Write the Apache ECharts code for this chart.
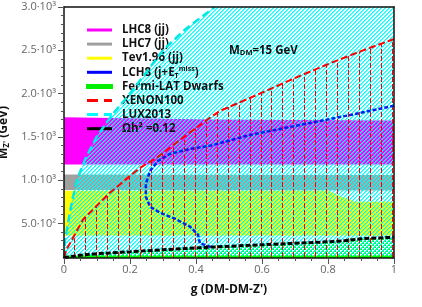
<!DOCTYPE html>
<html><head><meta charset="utf-8">
<script src="https://cdn.jsdelivr.net/npm/echarts@6/dist/echarts.min.js"></script>
<style>html,body{margin:0;padding:0;background:#fff}#c{width:422px;height:307px}</style>
</head><body><div id="c"></div>
<script>
// ---- data (g, M_Z' in GeV) ----
const xTickValues = [0, 0.2, 0.4, 0.6, 0.8, 1];
const yTickValues = [500, 1000, 1500, 2000, 2500, 3000];
const yTickLabels = ['5.0·10²', '1.0·10³', '1.5·10³', '2.0·10³', '2.5·10³', '3.0·10³'];
const seriesNames = ['LHC8 (jj)', 'LHC7 (jj)', 'Tev1.96 (jj)', 'LCH8 (j+ET miss)', 'Fermi-LAT Dwarfs', 'XENON100', 'LUX2013', 'Ωh² =0.12'];

const lhc8Upper = [[0, 1726], [0.45, 1700], [1, 1690]];
const lhc8Lower = [[0, 1180], [1, 1180]];
const lhc7Upper = [[0, 1065], [1, 1060]];
const lhc7Lower = [[0, 885], [1, 880]];
const tevUpper = [[0, 877], [0.80, 877], [0.84, 810], [0.88, 750], [1, 750]];
const tevLower = [[0, 360], [1, 360]];
const luxCurve = [[0, 100], [0.003, 300], [0.012, 500], [0.024, 750], [0.039, 1000], [0.065, 1250], [0.099, 1500], [0.145, 1750], [0.2, 2000], [0.25, 2250], [0.3, 2500], [0.37, 2750], [0.457, 3000]];
const luxClose = [[1, 3000], [1, 100]];
const xenonCurve = [[0, 100], [0.008, 200], [0.058, 546], [0.139, 854], [0.23, 1142], [0.281, 1257], [0.35, 1460], [0.44, 1715], [0.473, 1800], [0.6, 2010], [0.7, 2180], [0.8, 2340], [0.9, 2490], [1, 2630]];
const xenonClose = [[1, 100]];
const omegaCurve = [[0, 105], [0.05, 132], [0.1, 150], [0.2, 172], [0.3, 195], [0.445, 226], [0.6, 253], [0.7, 270], [0.8, 287], [0.85, 300], [0.9, 322], [0.95, 332], [1, 340]];
const fermiLower = [[0, 100], [1, 100]];
const fermiStripUpper = [[0, 125], [1, 125]];
const lch8Curve = [[0.445, 226], [0.43, 250], [0.412, 266], [0.406, 370], [0.382, 462], [0.336, 554], [0.291, 623], [0.261, 692], [0.248, 808], [0.248, 958], [0.261, 1107], [0.285, 1222], [0.321, 1303], [0.382, 1360], [0.445, 1399], [0.564, 1522], [0.715, 1637], [0.867, 1752], [1, 1860]];

// ---- styles ----
function mkCanvas(w, h, draw) { const c = document.createElement('canvas'); c.width = w; c.height = h; draw(c.getContext('2d')); return c; }
const cyanHatch = mkCanvas(4, 4, ctx => {
  for (let y = 0; y < 4; y++) for (let x = 0; x < 4; x++) {
    const m = (x + y) % 4;
    if (m === 0) { ctx.fillStyle = '#00ffff'; ctx.fillRect(x, y, 1, 1); }
    else if (m === 1) { ctx.fillStyle = 'rgba(0,255,255,0.6)'; ctx.fillRect(x, y, 1, 1); }
  }
});
const greenHatch = mkCanvas(4, 4, ctx => { ctx.fillStyle = '#00ff00'; ctx.fillRect(0, 0, 2, 2); ctx.fillRect(2, 2, 2, 2); });
const HATCH_DX = 10.95;   // pixel spacing of the XENON hatch lines

function polyPts(upper, lower) { return upper.concat(lower.slice().reverse()); }
function polySeries(name, pts, fill, z) {
  return {
    type: 'custom', name: name, coordinateSystem: 'cartesian2d', clip: true, z: z, silent: true, animation: false,
    data: pts,
    renderItem: function (params, api) {
      if (params.dataIndex !== 0) return null;
      return { type: 'polygon', shape: { points: pts.map(p => api.coord(p)) }, style: { fill: fill, stroke: null } };
    }
  };
}
function vHatchSeries(name, pts, color, z) {
  return {
    type: 'custom', name: name, coordinateSystem: 'cartesian2d', clip: true, z: z, silent: true, animation: false,
    data: pts,
    renderItem: function (params, api) {
      if (params.dataIndex !== 0) return null;
      const cs = params.coordSys;
      const children = [];
      for (let k = 1; cs.x + k * HATCH_DX < cs.x + cs.width - 1; k++) {
        const x = Math.round(cs.x + k * HATCH_DX - 0.6) + 0.5;
        children.push({ type: 'line', shape: { x1: x, y1: cs.y, x2: x, y2: cs.y + cs.height }, style: { stroke: color, lineWidth: 1, lineDash: [5, 2] } });
      }
      return { type: 'group', clipPath: { type: 'polygon', shape: { points: pts.map(p => api.coord(p)) } }, children: children };
    }
  };
}
function lineSeries(name, data, color, width, dash, z) {
  return { type: 'line', name: name, data: data, symbol: 'none', showSymbol: false, clip: true, z: z, animation: false, silent: true,
    itemStyle: { color: color }, lineStyle: { color: color, width: width, type: dash } };
}

const RECT = 'rect';
const DASH = 'path://M0,0H11V3H0Z M17,0H25V3H17Z';
const legendColors = ['#ff00ff', '#a0a0a0', '#ffff00', '#0000ff', '#00ee00', '#ff0000', '#00ffff', '#000000'];
const FONT = 'Open Sans';

const chart = echarts.init(document.getElementById('c'), null, { renderer: 'canvas', width: 422, height: 307 });
const minorY = []; for (let v = 200; v < 3000; v += 100) if (v % 500 !== 0) minorY.push(v);

chart.setOption({
  animation: false,
  backgroundColor: '#fff',
  textStyle: { fontFamily: FONT },
  grid: { left: 64, right: 28, top: 7, bottom: 49, containLabel: false, outerBoundsMode: 'none' },
  title: {
    text: '{m|M}{s|DM}{m|=15 GeV}', left: 224, top: 39,
    textStyle: { rich: { m: { fontFamily: FONT, fontWeight: 'bold', fontSize: 11.5, color: '#111' }, s: { fontFamily: FONT, fontWeight: 'bold', fontSize: 7.5, color: '#111', padding: [5, 0, 0, 0] } } }
  },
  legend: {
    orient: 'vertical', left: 81, top: 18, itemWidth: 25, itemHeight: 3, itemGap: 0.1,
    data: seriesNames.map((n, i) => ({
      name: n, icon: (i === 5 || i === 6) ? DASH : RECT,
      itemStyle: i === 4 ? { color: legendColors[i], borderColor: legendColors[i], borderWidth: 2 } : { color: legendColors[i], borderWidth: 0 }
    })),
    formatter: function (name) { return name === seriesNames[3] ? '{n|LCH8 (j+E}{sub|T}{sup|miss}{n|)}' : name; },
    textStyle: {
      fontFamily: FONT, fontWeight: 'bold', fontSize: 11.5, lineHeight: 14, color: '#111', padding: [0, 0, 0, 5],
      rich: {
        n: { fontFamily: FONT, fontWeight: 'bold', fontSize: 11.5, color: '#111' },
        sub: { fontFamily: FONT, fontWeight: 'bold', fontSize: 7, color: '#111', verticalAlign: 'bottom', lineHeight: 10 },
        sup: { fontFamily: FONT, fontWeight: 'bold', fontSize: 7, color: '#111', verticalAlign: 'top', lineHeight: 10 }
      }
    }
  },
  xAxis: [{
    type: 'value', min: 0, max: 1, interval: 0.2, position: 'bottom', z: 10,
    name: "g (DM-DM-Z')", nameLocation: 'middle', nameGap: 26,
    nameTextStyle: { fontFamily: FONT, fontWeight: 'bold', fontSize: 12, color: '#111' },
    axisLine: { show: true, lineStyle: { color: '#111', width: 1.5 } },
    axisTick: { show: true, inside: false, length: 6, lineStyle: { color: '#555' } },
    minorTick: { show: true, splitNumber: 4, length: 3, lineStyle: { color: '#555' } },
    axisLabel: { color: '#666', fontSize: 11, margin: 6 },
    splitLine: { show: false }
  }, {
    type: 'value', min: 0, max: 1, position: 'top', z: 10,
    axisLine: { show: true, onZero: false, lineStyle: { color: '#111', width: 1.5 } },
    axisTick: { show: false }, axisLabel: { show: false }, splitLine: { show: false }
  }],
  yAxis: [{
    type: 'value', min: 100, max: 3000, position: 'left', z: 10,
    name: "{b|M}{s|Z'}{b| (GeV)}", nameLocation: 'middle', nameGap: 44,
    nameTextStyle: { rich: { b: { fontFamily: FONT, fontWeight: 'bold', fontSize: 12, color: '#111' }, s: { fontFamily: FONT, fontWeight: 'bold', fontSize: 8, color: '#111', padding: [5, 0, 0, 0] } } },
    axisLine: { show: true, onZero: false, lineStyle: { color: '#111', width: 1.5 } },
    axisTick: { show: true, length: 3, customValues: minorY, lineStyle: { color: '#555' } },
    axisLabel: { show: true, customValues: yTickValues, color: '#666', fontSize: 11, margin: 8,
      formatter: function (v) { const i = yTickValues.indexOf(v); return i >= 0 ? yTickLabels[i] : ''; } },
    splitLine: { show: false }
  }, {
    type: 'value', min: 100, max: 3000, position: 'left', z: 10,
    axisLine: { show: false }, axisTick: { show: true, length: 6, customValues: yTickValues, lineStyle: { color: '#555' } },
    axisLabel: { show: false }, splitLine: { show: false }
  }, {
    type: 'value', min: 100, max: 3000, position: 'right', z: 10,
    axisLine: { show: true, onZero: false, lineStyle: { color: '#111', width: 1.5 } },
    axisTick: { show: false }, axisLabel: { show: false }, splitLine: { show: false }
  }],
  series: [
    polySeries(seriesNames[0], polyPts(lhc8Upper, lhc8Lower), '#ff00ff', 1),
    polySeries(seriesNames[1], polyPts(lhc7Upper, lhc7Lower), '#a0a0a0', 1),
    polySeries(seriesNames[2], polyPts(tevUpper, tevLower), '#ffff00', 1),
    polySeries(seriesNames[4], polyPts(omegaCurve, fermiLower), { image: greenHatch, repeat: 'repeat' }, 1),
    polySeries('LUX region', luxCurve.concat(luxClose), { image: cyanHatch, repeat: 'repeat' }, 2),
    polySeries('Fermi strip', polyPts(fermiStripUpper, fermiLower), '#00ff00', 2.5),
    vHatchSeries('XENON region', xenonCurve.concat(xenonClose), '#ff0000', 3),
    lineSeries(seriesNames[6], luxCurve, '#00e8e8', 2.5, [8, 4], 4),
    lineSeries(seriesNames[5], xenonCurve, '#ff0000', 2, [7, 3], 5),
    lineSeries(seriesNames[3], lch8Curve, '#0022ee', 2.5, [4, 2], 6),
    lineSeries(seriesNames[7], omegaCurve, '#000000', 3, [5, 2], 7)
  ]
});
</script></body></html>
